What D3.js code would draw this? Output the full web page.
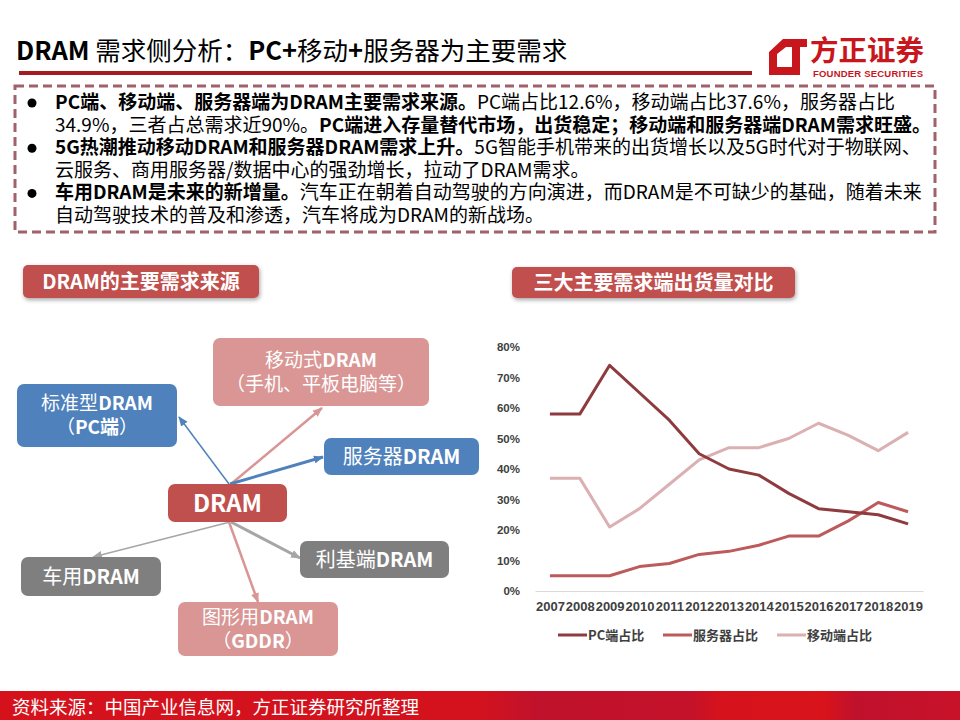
<!DOCTYPE html>
<html>
<head>
<meta charset="utf-8">
<script src="https://cdn.jsdelivr.net/npm/d3@7"></script>
<style>
  body { margin: 0; background: #fff; }
  svg { display: block; }
</style>
</head>
<body>
<div id="chart"></div>
<script>
// chart data
var years = ["2007","2008","2009","2010","2011","2012","2013","2014","2015","2016","2017","2018","2019"];
var pcShare = [58, 58, 74, 65, 56, 45, 40, 38, 32, 27, 26, 25, 22];
var serverShare = [5, 5, 5, 8, 9, 12, 13, 15, 18, 18, 23, 29, 26];
var mobileShare = [37, 37, 21, 27, 35, 43, 47, 47, 50, 55, 51, 46, 52];
var seriesNames = ["PC端占比", "服务器占比", "移动端占比"];
var yTicks = [0, 10, 20, 30, 40, 50, 60, 70, 80];

// bullet text lines: [bold part, normal part] pieces in order
var bulletLines = [
  [["b","PC端、移动端、服务器端为DRAM主要需求来源。"],["n","PC端占比12.6%，移动端占比37.6%，服务器占比"]],
  [["n","34.9%，三者占总需求近90%。"],["b","PC端进入存量替代市场，出货稳定；移动端和服务器端DRAM需求旺盛。"]],
  [["b","5G热潮推动移动DRAM和服务器DRAM需求上升。"],["n","5G智能手机带来的出货增长以及5G时代对于物联网、"]],
  [["n","云服务、商用服务器/数据中心的强劲增长，拉动了DRAM需求。"]],
  [["b","车用DRAM是未来的新增量。"],["n","汽车正在朝着自动驾驶的方向演进，而DRAM是不可缺少的基础，随着未来"]],
  [["n","自动驾驶技术的普及和渗透，汽车将成为DRAM的新战场。"]]
];
var bulletStarts = [0, 2, 4];

var W = 960, H = 720;
var cjk = "'Noto Sans CJK SC', 'Noto Sans', sans-serif";
var latin = "'Liberation Sans', Arial, sans-serif";

var svg = d3.select("#chart").append("svg").attr("width", W).attr("height", H);
var defs = svg.append("defs");

var shadow = defs.append("filter").attr("id", "shadow").attr("x", "-10%").attr("y", "-30%").attr("width", "130%").attr("height", "170%");
shadow.append("feDropShadow").attr("dx", 1).attr("dy", 2).attr("stdDeviation", 2).attr("flood-color", "#000").attr("flood-opacity", 0.35);

var footGrad = defs.append("linearGradient").attr("id", "footGrad");
[[0,"#d5121c"],[0.5,"#d3121e"],[0.56,"#c0122c"],[0.72,"#c4122a"],[0.75,"#d6121c"],[0.86,"#d8131b"],[0.89,"#c0112c"],[1,"#c8122a"]].forEach(function(s){
  footGrad.append("stop").attr("offset", s[0]).attr("stop-color", s[1]);
});

// header
var title = svg.append("text").attr("x", 16).attr("y", 60).attr("font-size", 25.5).attr("fill", "#000").attr("font-family", cjk);
title.append("tspan").attr("font-weight", "bold").text("DRAM ");
title.append("tspan").text("需求侧分析：");
title.append("tspan").attr("font-weight", "bold").text("PC+");
title.append("tspan").text("移动");
title.append("tspan").attr("font-weight", "bold").text("+");
title.append("tspan").text("服务器为主要需求");

svg.append("rect").attr("x", 19).attr("y", 71).attr("width", 733).attr("height", 4).attr("fill", "#a31c22");

// logo
svg.append("path")
  .attr("d", "M783,39 L807,39 L807,47 L800,47 L800,75 L769,75 L769,52 Z M777,54 L777,67 L792,67 L792,47 L786,47 Z")
  .attr("fill-rule", "evenodd").attr("fill", "#c8161d");
svg.append("text").attr("x", 810).attr("y", 61).attr("font-size", 28.5).attr("font-weight", "bold")
  .attr("font-family", cjk).attr("fill", "#c8161d").text("方正证券");
svg.append("text").attr("x", 813).attr("y", 77).attr("font-size", 9.5).attr("font-weight", "bold")
  .attr("font-family", latin).attr("fill", "#c8161d").attr("textLength", 110).text("FOUNDER SECURITIES");

// dashed text box
svg.append("rect").attr("x", 15).attr("y", 86).attr("width", 920).attr("height", 146)
  .attr("fill", "none").attr("stroke", "#a0616a").attr("stroke-width", 3).attr("stroke-dasharray", "9,5");

bulletLines.forEach(function(line, i){
  var y = 109 + i * 22.6;
  if (bulletStarts.indexOf(i) >= 0) {
    svg.append("circle").attr("cx", 32).attr("cy", y - 6).attr("r", 4.5).attr("fill", "#000");
  }
  var t = svg.append("text").attr("x", 55).attr("y", y).attr("font-size", 19).attr("font-family", cjk).attr("fill", "#000");
  line.forEach(function(p){
    t.append("tspan").attr("font-weight", p[0] === "b" ? "bold" : "normal").text(p[1]);
  });
});

// section title bars
function sectionTitle(x, y, w, h, label) {
  svg.append("rect").attr("x", x).attr("y", y).attr("width", w).attr("height", h).attr("rx", 5)
    .attr("fill", "#c0504d").attr("filter", "url(#shadow)");
  svg.append("text").attr("x", x + w / 2).attr("y", y + h / 2 + 7).attr("text-anchor", "middle")
    .attr("font-size", 20).attr("font-weight", "bold").attr("font-family", cjk).attr("fill", "#fff").text(label);
}
sectionTitle(23, 265, 236, 33, "DRAM的主要需求来源");
sectionTitle(512, 267, 283, 31, "三大主要需求端出货量对比");

// diagram
var nodes = [
  {id: "mobile", x: 213, y: 338, w: 216, h: 68, fill: "#d99694", lines: [["移动式", "DRAM"], ["（手机、平板电脑等）", ""]], size: 19},
  {id: "std", x: 17, y: 384, w: 160, h: 63, fill: "#4f81bd", lines: [["标准型", "DRAM"], ["（", "PC端", "）"]], size: 19},
  {id: "server", x: 324, y: 438, w: 155, h: 37, fill: "#4f81bd", lines: [["服务器", "DRAM"]], size: 20},
  {id: "dram", x: 168, y: 484, w: 119, h: 38, fill: "#c0504d", lines: [["", "DRAM"]], size: 24},
  {id: "niche", x: 300, y: 541, w: 149, h: 37, fill: "#7f7f7f", lines: [["利基端", "DRAM"]], size: 20},
  {id: "car", x: 21, y: 557, w: 140, h: 39, fill: "#7f7f7f", lines: [["车用", "DRAM"]], size: 20},
  {id: "gddr", x: 178, y: 602, w: 160, h: 54, fill: "#d99694", lines: [["图形用", "DRAM"], ["（", "GDDR", "）"]], size: 19}
];

var links = [
  {x1: 229, y1: 484, x2: 179, y2: 417, color: "#4f81bd", w: 1.5},
  {x1: 231, y1: 484, x2: 322, y2: 408, color: "#d99694", w: 2.5},
  {x1: 230, y1: 484, x2: 323, y2: 457, color: "#4f81bd", w: 3},
  {x1: 230, y1: 522, x2: 93, y2: 557, color: "#a6a6a6", w: 1.5},
  {x1: 231, y1: 522, x2: 300, y2: 558, color: "#a6a6a6", w: 3},
  {x1: 229, y1: 522, x2: 258, y2: 602, color: "#d99694", w: 2.5}
];

links.forEach(function(l, i){
  var m = defs.append("marker").attr("id", "arr" + i).attr("viewBox", "0 0 10 10").attr("refX", 9).attr("refY", 5)
    .attr("markerUnits", "userSpaceOnUse").attr("markerWidth", 10).attr("markerHeight", 10).attr("orient", "auto");
  m.append("path").attr("d", "M0,1 L10,5 L0,9 Z").attr("fill", l.color);
  svg.append("line").attr("x1", l.x1).attr("y1", l.y1).attr("x2", l.x2).attr("y2", l.y2)
    .attr("stroke", l.color).attr("stroke-width", l.w).attr("marker-end", "url(#arr" + i + ")");
});

nodes.forEach(function(n){
  svg.append("rect").attr("x", n.x).attr("y", n.y).attr("width", n.w).attr("height", n.h).attr("rx", 7).attr("fill", n.fill);
  var lh = n.size + 5;
  var y0 = n.y + n.h / 2 - (n.lines.length - 1) * lh / 2 + n.size * 0.36;
  n.lines.forEach(function(parts, j){
    var t = svg.append("text").attr("x", n.x + n.w / 2).attr("y", y0 + j * lh).attr("text-anchor", "middle")
      .attr("font-size", n.size).attr("fill", "#fff").attr("font-family", cjk);
    t.append("tspan").text(parts[0]);
    if (parts[1]) t.append("tspan").attr("font-weight", "bold").text(parts[1]);
    if (parts[2]) t.append("tspan").text(parts[2]);
  });
});

// line chart
var x = d3.scalePoint().domain(years).range([535, 923]).padding(0.5);
var y = d3.scaleLinear().domain([0, 80]).range([591, 347]);

var xAxis = svg.append("g").attr("transform", "translate(0,591)")
  .call(d3.axisBottom(x).tickSize(0).tickPadding(11));
xAxis.select(".domain").attr("stroke", "#d9d9d9").attr("stroke-width", 1);
xAxis.selectAll("text").attr("font-size", 13).attr("font-weight", "bold").attr("font-family", latin).attr("fill", "#404040");

var yAxis = svg.append("g").attr("transform", "translate(522,0)")
  .call(d3.axisLeft(y).tickValues(yTicks).tickSize(0).tickPadding(2).tickFormat(function(d){ return d + "%"; }));
yAxis.select(".domain").remove();
yAxis.selectAll("text").attr("font-size", 11.5).attr("font-weight", "bold").attr("font-family", latin).attr("fill", "#404040");

var series = [
  {name: seriesNames[0], values: pcShare, color: "#8e3b3f"},
  {name: seriesNames[1], values: serverShare, color: "#bd5a5c"},
  {name: seriesNames[2], values: mobileShare, color: "#dbb0b2"}
];

var line = d3.line().x(function(d, i){ return x(years[i]); }).y(function(d){ return y(d); });

series.slice().reverse().forEach(function(s){
  svg.append("path").datum(s.values).attr("d", line).attr("fill", "none")
    .attr("stroke", s.color).attr("stroke-width", 3).attr("stroke-linejoin", "round");
});

// legend
var legendX = [558, 663, 777];
series.forEach(function(s, i){
  var g = svg.append("g").attr("transform", "translate(" + legendX[i] + ",635)");
  g.append("line").attr("x1", 0).attr("x2", 29).attr("stroke", s.color).attr("stroke-width", 3);
  g.append("text").attr("x", 30).attr("y", 5).attr("font-size", 13).attr("font-weight", "bold")
    .attr("font-family", cjk).attr("fill", "#404040").text(s.name);
});

// footer
svg.append("rect").attr("x", 0).attr("y", 691).attr("width", W).attr("height", 29).attr("fill", "url(#footGrad)");
svg.append("text").attr("x", 12).attr("y", 714).attr("font-size", 18.5).attr("font-family", cjk).attr("fill", "#fff")
  .text("资料来源：中国产业信息网，方正证券研究所整理");
</script>
</body>
</html>
